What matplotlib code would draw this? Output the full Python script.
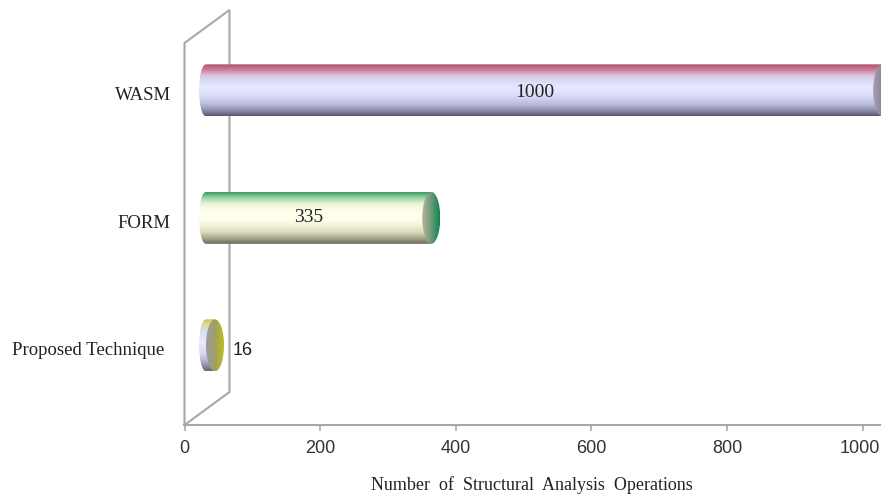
import matplotlib
matplotlib.use("Agg")
import matplotlib.pyplot as plt
import numpy as np
from matplotlib.patches import Ellipse, PathPatch
from matplotlib.path import Path
from matplotlib.colors import LinearSegmentedColormap
from matplotlib.transforms import ScaledTranslation

categories = ["Proposed Technique", "FORM", "WASM"]
operations = [16, 335, 1000]
value_labels = ["16", "335", "1000"]
x_ticks = [0, 200, 400, 600, 800, 1000]

W, H = 881, 498
LEFT, RIGHT, TOP, BOTTOM = 184.5, 862.5, 10, 425

# stops run from the top edge of the cylinder to the bottom edge
body_stops = {
    "WASM": ["#b04f6c", "#cf7f98", "#d9c8e4", "#dcdcf8", "#e6e8ff", "#e0e1fb", "#d2d3ef", "#b9b9d9", "#9090b0", "#5f566f"],
    "FORM": ["#3f9a62", "#9bd6a4", "#e6f5d6", "#fbfde8", "#ffffee", "#fcfce8", "#f0f0d6", "#d8d8b8", "#a9a78a", "#6a6a58"],
    "Proposed Technique": ["#c9c94a", "#dcdc9c", "#dcdcf0", "#e2e3fb", "#e8e9ff", "#e2e3fb", "#d4d5f0", "#bcbcdb", "#9494b2", "#66667c"],
}
cap_stops = {
    "WASM": ["#a4a0b0", "#8d8494", "#a84f6c"],
    "FORM": ["#b4b49c", "#6f9a78", "#0f8450"],
    "Proposed Technique": ["#9a9aa4", "#a0a060", "#bdbd1e"],
}

fig = plt.figure(figsize=(W / 100, H / 100), dpi=100, facecolor="white")
ax = fig.add_axes([LEFT / W, 1 - BOTTOM / H, (RIGHT - LEFT) / W, (BOTTOM - TOP) / H])

ax.set_xlim(0, 1000)
ax.set_ylim(-0.625, 2.63)
ax.patch.set_visible(False)

px_x = 1000 / (RIGHT - LEFT)
px_y = (2.63 + 0.625) / (BOTTOM - TOP)
depth_x = 45 * px_x
depth_y = 33 * px_y
y0, y1 = ax.get_ylim()

# back wall of the 3D plot
wall_color = "#a8a8a8"
wall_y_top = y1 - depth_y
ax.plot([0, 0, depth_x, depth_x, 0], [y0, wall_y_top, y1, y0 + depth_y, y0],
        color=wall_color, lw=1.5, clip_on=False, zorder=1, solid_joinstyle="miter")

for name in ("left", "right", "top"):
    ax.spines[name].set_visible(False)
ax.spines["bottom"].set_color(wall_color)
ax.spines["bottom"].set_linewidth(1.5)
ax.spines["bottom"].set_bounds(0, 1030)

ax.set_xticks(x_ticks)
ax.tick_params(axis="x", color=wall_color, width=1.2, length=4, pad=7, labelsize=13,
               labelcolor="#333333", labelfontfamily="Liberation Sans")
last_tick = ax.get_xticklabels()[-1]
last_tick.set_transform(last_tick.get_transform() + ScaledTranslation(-3 / 100, 0, fig.dpi_scale_trans))

ax.set_yticks(range(len(categories)))
ax.set_yticklabels(categories, family="Liberation Serif", fontsize=13.5, color="#222222")
ax.tick_params(axis="y", length=0, pad=10)
# the longest label sits further left than the other two
label_dx = [-6, 0, 0]
for lab, dx in zip(ax.get_yticklabels(), label_dx):
    lab.set_transform(lab.get_transform() + ScaledTranslation(dx / 100, -3.5 / 100, fig.dpi_scale_trans))

fig.text(532 / W, 1 - 485 / H, "Number  of  Structural  Analysis  Operations", family="Liberation Serif",
         fontsize=13, color="#222222", ha="center", va="center")

start = 29
half_h = 26 * px_y
half_w = 9 * px_x


def draw_gradient(grad, stops, name, extent, clip):
    cmap = LinearSegmentedColormap.from_list(name, stops)
    im = ax.imshow(grad, cmap=cmap, aspect="auto", zorder=3, interpolation="bilinear", extent=extent)
    im.set_clip_box(fig.bbox)
    im.set_clip_path(clip)
    return im


def draw_cylinder(y, value, name):
    x1 = start + value
    left = start + 3
    verts = [(left, y + half_h), (x1, y + half_h), (x1, y - half_h), (left, y - half_h),
             (left - half_w * 1.05, y - half_h), (left - half_w * 1.05, y + half_h), (left, y + half_h)]
    codes = [Path.MOVETO, Path.LINETO, Path.LINETO, Path.LINETO, Path.CURVE4, Path.CURVE4, Path.CURVE4]
    body_clip = PathPatch(Path(verts, codes), fc="none", ec="none", transform=ax.transData)
    ax.add_patch(body_clip)
    vertical = np.linspace(0, 1, 128).reshape(-1, 1)
    draw_gradient(vertical, body_stops[name], name, (left - half_w * 2, x1, y - half_h, y + half_h), body_clip)

    # end cap shades from grey on the left to the series colour on the right
    cap_clip = Ellipse((x1, y), 2 * half_w, 2 * half_h, fc="none", ec="none", clip_on=False)
    ax.add_patch(cap_clip)
    horizontal = np.linspace(0, 1, 64).reshape(1, -1)
    cap = draw_gradient(horizontal, cap_stops[name], name + " cap", (x1 - half_w, x1 + half_w, y - half_h, y + half_h), cap_clip)
    cap.set_zorder(4)


for i, (cat, val) in enumerate(zip(categories, operations)):
    draw_cylinder(i, val, cat)

ax.set_xlim(0, 1000)
ax.set_ylim(y0, y1)

# value labels
ax.text(start + operations[2] / 2 - 13, 2 - 2 * px_y, value_labels[2], family="Liberation Serif", fontsize=14,
        ha="center", va="center", color="#222222", zorder=6)
ax.text(start + operations[1] / 2 - 13, 1, value_labels[1], family="Liberation Serif", fontsize=14,
        ha="center", va="center", color="#222222", zorder=6)
ax.text(start + operations[0] + half_w + 12, -5 * px_y, value_labels[0], family="Liberation Sans", fontsize=13,
        ha="left", va="center", color="#222222", zorder=6)

fig.savefig("out.png", dpi=100)
